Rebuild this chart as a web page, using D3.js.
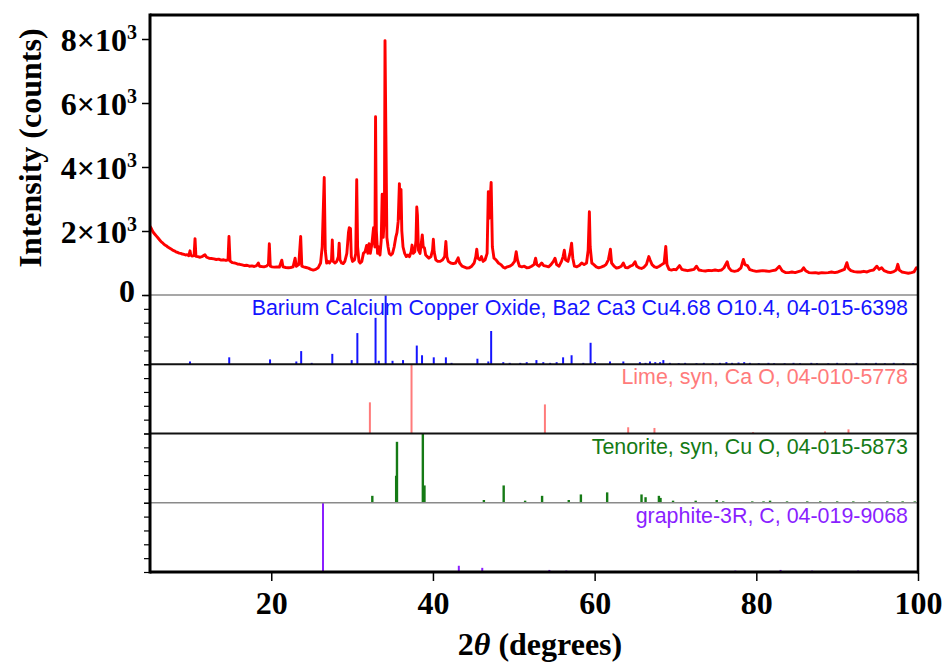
<!DOCTYPE html>
<html>
<head>
<meta charset="utf-8">
<script src="https://cdn.jsdelivr.net/npm/d3@7"></script>
<style>
  body { margin: 0; background: #fff; }
  svg { display: block; }
</style>
</head>
<body>
<svg id="chart" width="946" height="664"></svg>
<script>
// Measured XRD scan: [2θ (deg), intensity (counts)]
const scanPoints = [
  [5.0,2150],[5.2,2060],[5.4,1960],[5.6,1900],[5.8,1840],[6.0,1780],[6.2,1720],[6.4,1660],[6.6,1620],[6.8,1570],
  [7.0,1540],[7.2,1500],[7.4,1470],[7.6,1440],[7.8,1400],[8.0,1380],[8.2,1350],[8.4,1330],[8.6,1310],[8.8,1300],
  [9.0,1280],[9.2,1270],[9.4,1250],[9.6,1260],[9.8,1230],[9.95,1380],[10.05,1240],[10.2,1220],[10.45,1230],[10.57,1760],
  [10.68,1210],[10.9,1200],[11.2,1180],[11.5,1210],[11.8,1260],[12.0,1180],[12.3,1150],[12.6,1140],[12.9,1130],[13.2,1110],
  [13.5,1120],[13.8,1090],[14.1,1100],[14.4,1080],[14.65,1100],[14.77,1830],[14.9,1060],[15.2,1010],[15.5,1000],[15.8,970],
  [16.1,960],[16.4,940],[16.7,920],[17.0,930],[17.3,900],[17.6,910],[17.9,890],[18.2,920],[18.4,1000],[18.55,900],
  [18.8,890],[19.1,880],[19.4,900],[19.65,960],[19.76,1600],[19.88,900],[20.1,880],[20.4,870],[20.7,880],[21.0,870],
  [21.3,1090],[21.45,880],[21.8,860],[22.1,850],[22.4,860],[22.7,880],[22.95,1150],[23.1,900],[23.4,950],[23.64,1830],
  [23.78,900],[24.0,880],[24.3,860],[24.6,840],[24.9,800],[25.2,780],[25.5,800],[25.8,850],[26.1,1000],[26.3,1500],
  [26.55,3670],[26.68,1400],[26.85,1000],[27.0,1050],[27.2,1000],[27.45,1100],[27.55,1720],[27.65,1050],[27.9,1000],[28.1,1050],
  [28.3,1200],[28.4,1620],[28.5,1100],[28.7,1000],[28.9,980],[29.1,1050],[29.35,1300],[29.55,1950],[29.65,2100],[29.8,2080],
  [29.9,1200],[30.05,1050],[30.3,1100],[30.45,1300],[30.57,3600],[30.68,1500],[30.85,1050],[31.0,1000],[31.2,1050],[31.4,1300],
  [31.6,1350],[31.8,1550],[31.95,1300],[32.1,1600],[32.25,1300],[32.45,1600],[32.65,2100],[32.82,1500],[32.9,5570],[33.0,2000],
  [33.15,1300],[33.3,1500],[33.45,1250],[33.6,1700],[33.72,3150],[33.85,1800],[34.0,2500],[34.07,7950],[34.18,5000],[34.3,1800],
  [34.45,1500],[34.6,1300],[34.8,1250],[35.0,1300],[35.2,1500],[35.4,1800],[35.55,1950],[35.7,2300],[35.85,3480],[35.95,2400],
  [36.05,3300],[36.15,2000],[36.3,1500],[36.5,1300],[36.7,1200],[36.9,1250],[37.1,1200],[37.3,1350],[37.42,1560],[37.55,1300],
  [37.75,1350],[37.9,1700],[38.0,2750],[38.08,2500],[38.2,1400],[38.4,1300],[38.55,1600],[38.68,1880],[38.8,1500],[38.95,1470],
  [39.1,1250],[39.3,1200],[39.5,1150],[39.75,1200],[39.95,1400],[40.05,1740],[40.15,1350],[40.35,1100],[40.6,1050],[40.9,1050],
  [41.2,1100],[41.45,1200],[41.6,1670],[41.72,1200],[41.9,1050],[42.2,1000],[42.5,980],[42.8,1000],[43.0,1100],[43.12,1160],
  [43.3,1000],[43.6,900],[43.9,870],[44.2,840],[44.5,850],[44.8,900],[45.1,1000],[45.3,1200],[45.42,1430],[45.55,1150],
  [45.8,1100],[46.0,1200],[46.2,1050],[46.45,1100],[46.7,1300],[46.85,3230],[46.95,2400],[47.2,3520],[47.35,1500],[47.55,1150],
  [47.8,1100],[48.1,1000],[48.4,950],[48.7,870],[48.9,840],[49.2,880],[49.5,900],[49.8,950],[50.1,1050],[50.3,1350],
  [50.45,1100],[50.7,900],[51.0,880],[51.3,900],[51.6,850],[51.9,860],[52.2,900],[52.5,950],[52.7,1150],[52.85,950],
  [53.1,900],[53.45,1000],[53.7,920],[54.0,900],[54.3,880],[54.6,950],[54.9,1050],[55.1,1150],[55.3,950],[55.6,900],
  [55.9,1050],[56.1,1200],[56.25,1400],[56.4,1100],[56.7,1050],[56.95,1300],[57.15,1620],[57.3,1150],[57.5,900],[57.8,880],
  [58.1,920],[58.4,1000],[58.7,950],[59.0,1000],[59.2,1400],[59.35,2600],[59.45,1500],[59.65,1000],[59.9,950],[60.2,880],
  [60.5,850],[60.8,870],[61.1,900],[61.4,950],[61.7,1100],[61.95,1430],[62.1,1000],[62.4,900],[62.7,840],[63.0,860],
  [63.3,900],[63.55,1000],[63.8,860],[64.1,850],[64.4,900],[64.7,930],[65.0,1040],[65.2,900],[65.5,850],[65.8,830],
  [66.1,870],[66.4,950],[66.7,1200],[66.85,1100],[67.1,950],[67.4,880],[67.7,860],[68.0,900],[68.3,950],[68.6,1000],
  [68.8,1520],[68.95,950],[69.2,800],[69.5,780],[69.8,800],[70.1,790],[70.5,920],[70.8,800],[71.1,780],[71.5,760],
  [71.9,780],[72.3,800],[72.6,900],[72.9,780],[73.3,760],[73.7,750],[74.1,770],[74.5,760],[74.9,780],[75.3,760],
  [75.7,780],[76.0,850],[76.4,1040],[76.6,850],[76.9,760],[77.3,740],[77.7,760],[78.1,850],[78.4,1110],[78.6,950],
  [78.9,920],[79.2,790],[79.6,760],[80.0,740],[80.4,750],[80.8,760],[81.2,750],[81.6,740],[82.0,760],[82.4,780],
  [82.85,900],[83.2,760],[83.6,700],[84.0,700],[84.4,720],[84.8,700],[85.2,730],[85.6,760],[85.85,850],[86.1,760],
  [86.5,700],[86.9,690],[87.3,700],[87.7,680],[88.1,700],[88.5,690],[88.9,700],[89.3,720],[89.7,700],[90.1,720],
  [90.5,760],[90.9,800],[91.2,1010],[91.4,830],[91.7,760],[92.1,730],[92.5,720],[92.9,720],[93.3,740],[93.7,720],
  [94.1,760],[94.5,780],[94.9,900],[95.2,800],[95.5,850],[95.8,760],[96.2,720],[96.6,700],[97.0,730],[97.3,780],
  [97.5,960],[97.7,780],[98.0,720],[98.4,700],[98.8,680],[99.2,700],[99.5,720],[99.8,850],[100.0,820]
];

// Reference patterns: [2θ (deg), relative intensity (%)]
const bccoPeaks = [
  [9.95,4],[14.8,10],[19.85,7],[23.1,4],[23.7,19],[25.0,2],[27.55,15],[29.95,6],[30.65,45],[32.9,67],
  [33.3,5],[34.15,100],[35.0,5],[36.3,6],[38.0,27],[38.65,13],[40.1,10],[41.6,10],[42.3,2],[45.5,8],
  [46.85,4],[47.2,48],[48.7,3],[49.5,2],[50.8,2],[51.6,3],[52.8,6],[53.65,3],[54.5,2],[55.3,3],
  [56.1,10],[57.15,13],[58.6,2],[59.5,31],[60.05,3],[61.9,4],[63.55,4],[65.6,3],[66.3,2],[66.85,4],
  [67.5,3],[68.1,3],[68.5,6],[69.3,2],[70.4,1.5],[71.2,2],[72.6,1.5],[73.5,2],[74.6,1.5],[75.5,2],
  [76.3,3],[77.0,2],[77.8,2.5],[78.5,3],[79.2,2],[80.3,1.5],[81.5,2],[82.2,1.5],[83.5,1.5],[84.6,2],
  [85.4,1.5],[86.8,2],[87.5,1.5],[88.9,1.5],[90.0,2],[91.1,1.5],[92.4,2],[93.6,1.5],[94.8,2],[95.9,1.5],
  [97.0,2],[98.2,1.5],[99.4,1.5]
];
const limePeaks = [
  [32.2,45],[37.35,100],[53.85,42],[64.15,9],[67.4,8],[79.6,2],[88.5,3],[91.4,6]
];
const tenoritePeaks = [
  [32.5,10],[35.45,39],[35.55,88],[38.75,100],[38.95,25],[46.3,4],[48.75,25],[51.4,3],[53.5,10],[56.8,4],
  [58.3,12],[61.55,15],[65.8,12],[66.3,8],[67.95,10],[68.15,7],[69.7,3],[72.5,3],[75.1,4],[75.9,2],
  [79.5,2],[80.9,2],[81.7,3],[83.8,2],[86.3,2],[87.9,2],[90.0,2],[92.0,2],[94.0,2],[96.2,2],
  [98.1,2],[99.6,2]
];
const graphitePeaks = [
  [26.4,100],[43.2,9],[46.1,6],[54.4,3],[56.5,2],[62.5,1.5],[77.4,2],[83.0,3],[86.9,2],[91.3,1.5],
  [92.6,2],[94.5,1.5]
];

const phaseLabels = [
  "Barium Calcium Copper Oxide, Ba2 Ca3 Cu4.68 O10.4, 04-015-6398",
  "Lime, syn, Ca O, 04-010-5778",
  "Tenorite, syn, Cu O, 04-015-5873",
  "graphite-3R, C, 04-019-9068"
];
const phasePeaks = [bccoPeaks, limePeaks, tenoritePeaks, graphitePeaks];

const xTicks = [20, 40, 60, 80, 100];
const yTicks = [0, 2000, 4000, 6000, 8000];
const yTickMantissa = ["0", "2", "4", "6", "8"];

// ---- drawing ----
const phaseColors = ["#1515ff", "#ff7b7b", "#157a15", "#8a1fff"];
const svg = d3.select("#chart");
const L = 150, R = 918, T = 15, B = 572;
const mainBottom = 295;
const panelH = (B - mainBottom) / 4;
const serif = "'Liberation Serif','Times New Roman',serif";
const sans = "'Liberation Sans',Arial,sans-serif";

const x = d3.scaleLinear().domain([5, 100]).range([L, R]);
const yMain = d3.scaleLinear().domain([0, 8750]).range([mainBottom, T]);

svg.append("defs").append("clipPath").attr("id", "mainClip")
  .append("rect").attr("x", L).attr("y", T).attr("width", R - L).attr("height", mainBottom - T);

// scan trace
const line = d3.line().x(d => x(d[0])).y(d => yMain(d[1]));
svg.append("path")
  .datum(scanPoints)
  .attr("clip-path", "url(#mainClip)")
  .attr("d", line)
  .attr("fill", "none")
  .attr("stroke", "#ff0000")
  .attr("stroke-width", 2.9)
  .attr("stroke-linejoin", "round");

// reference stick panels
phasePeaks.forEach((peaks, i) => {
  const top = mainBottom + i * panelH;
  const bottom = top + panelH;
  const yRef = d3.scaleLinear().domain([0, 100]).range([bottom, top]);
  const g = svg.append("g");
  g.selectAll("line.stick").data(peaks).join("line")
    .attr("class", "stick")
    .attr("x1", d => x(d[0])).attr("x2", d => x(d[0]))
    .attr("y1", yRef(0)).attr("y2", d => yRef(d[1]))
    .attr("stroke", phaseColors[i])
    .attr("stroke-width", i === 2 ? 2.4 : 2);
  g.append("text")
    .attr("x", 908).attr("y", top + 20)
    .attr("text-anchor", "end")
    .attr("font-family", sans)
    .attr("font-size", 21.4)
    .attr("fill", phaseColors[i])
    .text(phaseLabels[i]);
  // small unlabeled ticks on the left edge
  const ax = d3.axisLeft(yRef).tickValues([0, 20, 40, 60, 80, 100]).tickSize(6).tickFormat("");
  const ag = svg.append("g").attr("transform", `translate(${L},0)`).call(ax);
  ag.select(".domain").remove();
  ag.selectAll("line").attr("stroke", "#000").attr("stroke-width", 1.2);
});

// panel separators
[0, 1, 2, 3].forEach(i => {
  const yy = mainBottom + i * panelH;
  const dark = (i === 1 || i === 2);
  svg.append("line")
    .attr("x1", L).attr("x2", R).attr("y1", yy).attr("y2", yy)
    .attr("stroke", dark ? "#111" : "#8a8a8a")
    .attr("stroke-width", dark ? 2 : 1.6);
});

// frame
svg.append("line").attr("x1", L).attr("x2", L).attr("y1", T - 1.5).attr("y2", B + 1.5).attr("stroke", "#000").attr("stroke-width", 3);
svg.append("line").attr("x1", L).attr("x2", R).attr("y1", T).attr("y2", T).attr("stroke", "#000").attr("stroke-width", 3);
svg.append("line").attr("x1", R).attr("x2", R).attr("y1", T - 1.5).attr("y2", B + 1.5).attr("stroke", "#000").attr("stroke-width", 2.5);
svg.append("line").attr("x1", L).attr("x2", R).attr("y1", B).attr("y2", B).attr("stroke", "#000").attr("stroke-width", 3);

// x axis
const xAxis = d3.axisBottom(x).tickValues(xTicks).tickSize(8).tickPadding(10).tickFormat(d3.format("d"));
const xg = svg.append("g").attr("transform", `translate(0,${B + 1})`).call(xAxis);
xg.select(".domain").remove();
xg.selectAll("line").attr("stroke", "#000").attr("stroke-width", 1.5);
xg.selectAll("text")
  .attr("font-family", serif).attr("font-weight", "bold").attr("font-size", 32).attr("fill", "#000");

// y axis (main panel)
const yAxis = d3.axisLeft(yMain).tickValues(yTicks).tickSize(8).tickFormat("");
const yg = svg.append("g").attr("transform", `translate(${L},0)`).call(yAxis);
yg.select(".domain").remove();
yg.selectAll("line").attr("stroke", "#000").attr("stroke-width", 1.5);
yg.selectAll(".tick").each(function(d, i) {
  const t = d3.select(this).append("text")
    .attr("x", -13).attr("y", 11)
    .attr("text-anchor", "end")
    .attr("font-family", serif).attr("font-weight", "bold").attr("font-size", 32).attr("fill", "#000");
  if (d === 0) {
    t.attr("x", -15).attr("y", 6).text("0");
  } else {
    t.append("tspan").text(yTickMantissa[i] + "\u00d710");
    t.append("tspan").attr("font-size", 20).attr("dy", -12).text("3");
  }
});

// axis titles
const xt = svg.append("text")
  .attr("x", 540).attr("y", 655)
  .attr("text-anchor", "middle")
  .attr("font-family", serif).attr("font-weight", "bold").attr("font-size", 32);
xt.append("tspan").text("2");
xt.append("tspan").attr("font-style", "italic").text("\u03b8");
xt.append("tspan").text(" (degrees)");

svg.append("text")
  .attr("transform", "translate(41,148) rotate(-90)")
  .attr("text-anchor", "middle")
  .attr("font-family", serif).attr("font-weight", "bold").attr("font-size", 32)
  .text("Intensity (counts)");
</script>
</body>
</html>
